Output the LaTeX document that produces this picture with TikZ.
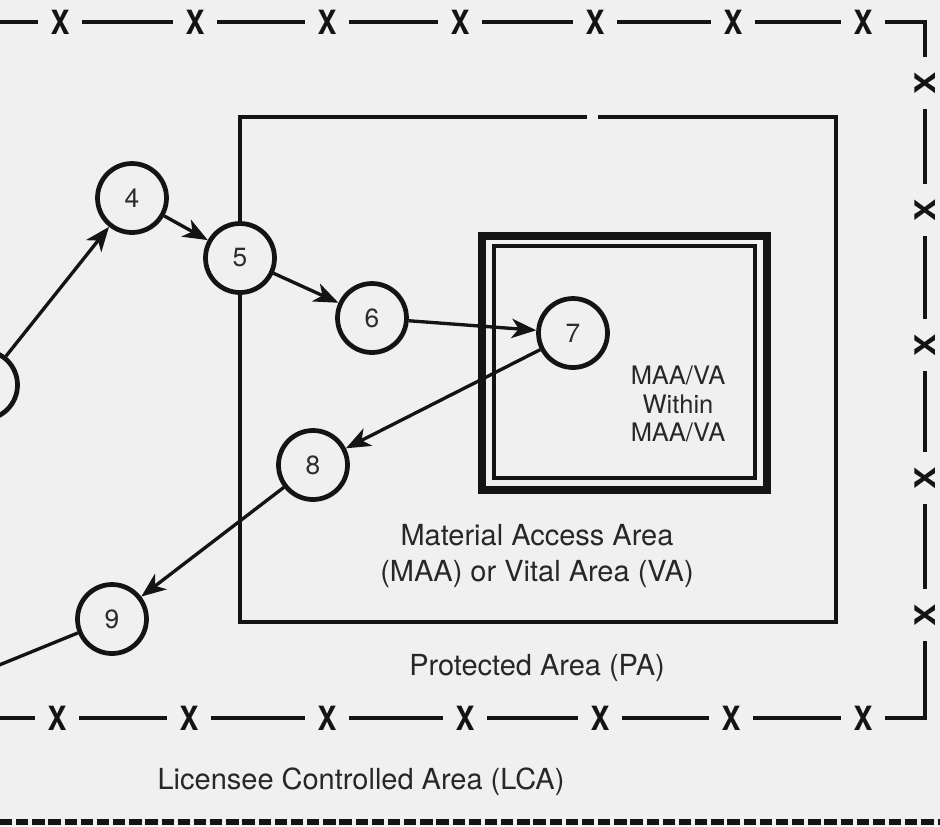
\documentclass[tikz,border=0pt]{standalone}
\usepackage{fontspec}
\setmainfont{TeX Gyre Heros}
\usepackage{tikz}
\usetikzlibrary{arrows.meta}

\definecolor{paper}{gray}{0.94}
\definecolor{ink}{gray}{0.08}

\tikzset{
  post/.style={circle,draw=ink,line width=2.7pt,minimum size=1.38cm,inner sep=0pt,
    fill=paper,text=ink!90,font=\fontsize{15}{16}\selectfont},
  route/.style={draw=ink,line width=1.9pt,-{Stealth[length=14pt,width=11pt,inset=4pt]}},
  link/.style={draw=ink,line width=1.9pt},
  fence/.style={draw=ink,line width=2.4pt},
  wire/.style={fill=paper,inner sep=0pt,minimum width=1.05cm,minimum height=0.5cm,
    text=ink,font=\fontsize{19}{19}\selectfont\bfseries,xscale=0.85},
  areatext/.style={align=center,text=ink!92,font=\fontsize{16.5}{21}\selectfont},
  innertext/.style={align=center,text=ink!92,font=\fontsize{14.5}{16.4}\selectfont}
}

\begin{document}
\begin{tikzpicture}[x=0.02cm,y=-0.02cm]
  \useasboundingbox (0,0) rectangle (940,826);
  \clip (0,0) rectangle (940,826);
  \fill[paper] (0,0) rectangle (940,826);

  % LCA fence
  \draw[fence] (-10,22) -- (925,22) -- (925,718) -- (-10,718);
  \foreach \x in {60,195,327,460,595,733,863} \node[wire] (ftop\x) at (\x,22) {X};
  \foreach \x in {57,189,327,465,600,731,863} \node[wire] (fbot\x) at (\x,718) {X};
  \foreach \y in {83,210,345,478,615} \node[wire,rotate=90] (fright\y) at (925,\y) {X};
  \draw[draw=ink,line width=3.6pt,dash pattern=on 7pt off 2.2pt] (0,822) -- (940,822);

  % MAA or VA
  \draw[draw=ink,line width=2.6pt] (598,117) -- (836,117) -- (836,622) -- (240,622) -- (240,117) -- (587,117);
  % MAA/VA within MAA/VA
  \draw[draw=ink,line width=4pt] (482,236) rectangle (767,490);
  \draw[draw=ink,line width=2pt] (494,246) rectangle (755,478);

  \node[innertext] (vatext) at (678,404) {MAA/VA\\Within\\MAA/VA};
  \node[areatext] (maatext) at (537,556) {Material Access Area\\(MAA) or Vital Area (VA)};
  \node[areatext] (patext) at (537,668) {Protected Area (PA)};
  \node[areatext] (lcatext) at (361,782) {Licensee Controlled Area (LCA)};

  \node[post] (n3) at (-17,385) {};
  \node[post] (n4) at (132,198) {4};
  \node[post] (n5) at (240,258) {5};
  \node[post] (n6) at (372,318) {6};
  \node[post] (n7) at (573,333) {7};
  \node[post] (n8) at (313,465) {8};
  \node[post] (n9) at (112,619) {9};
  \coordinate (exit) at (-40,681);

  \draw[route] (n3) -- (n4);
  \draw[route] (n4) -- (n5);
  \draw[route] (n5) -- (n6);
  \draw[route] (n6) -- (n7);
  \draw[route] (n7) -- (n8);
  \draw[route] (n8) -- (n9);
  \draw[link] (n9) -- (exit);
\end{tikzpicture}
\end{document}
